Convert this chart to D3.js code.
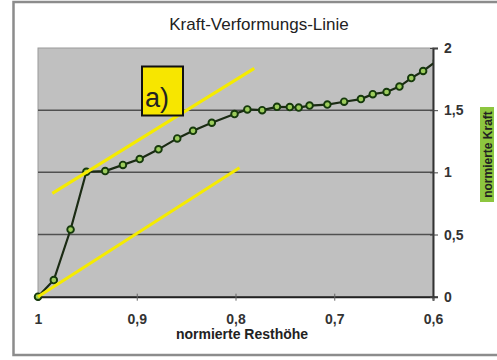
<!DOCTYPE html>
<html><head><meta charset="utf-8">
<script src="https://cdn.jsdelivr.net/npm/d3@7"></script>
<style>body{margin:0;background:#fff;} svg{display:block;font-family:"Liberation Sans",Arial,sans-serif;}</style>
</head><body>
<script>
const title = "Kraft-Verformungs-Linie";
const xTitle = "normierte Resthöhe";
const yTitle = "normierte Kraft";
const xTicks = [1, 0.9, 0.8, 0.7, 0.6];
const xTickLabels = ["1", "0,9", "0,8", "0,7", "0,6"];
const yTicks = [0, 0.5, 1, 1.5, 2];
const yTickLabels = ["0", "0,5", "1", "1,5", "2"];
const resthoehe = [1, 0.984, 0.967, 0.951, 0.932, 0.914, 0.897, 0.878, 0.859, 0.843, 0.824, 0.801, 0.788, 0.773, 0.758, 0.745, 0.736, 0.725, 0.707, 0.690, 0.673, 0.661, 0.647, 0.634, 0.622, 0.610, 0.596];
const kraft = [0, 0.134, 0.54, 1.005, 1.01, 1.06, 1.107, 1.185, 1.273, 1.334, 1.399, 1.469, 1.506, 1.50, 1.527, 1.525, 1.521, 1.537, 1.545, 1.568, 1.589, 1.629, 1.646, 1.690, 1.758, 1.815, 1.897];
// annotation lines (data units): [x1, y1, x2, y2]
const annotUpper = [0.9855, 0.831, 0.781, 1.836];
const annotLower = [1, 0, 0.796, 1.037];
const annotLabel = "a)";

const W = 497, H = 360;
const svg = d3.select("body").append("svg").attr("width", W).attr("height", H);
// outer frame
svg.append("rect").attr("x", 13.5).attr("y", 2).attr("width", 520).attr("height", 353)
  .attr("fill", "#fff").attr("stroke", "#8c8c8c").attr("stroke-width", 2.5);

const x = d3.scaleLinear().domain([1, 0.6]).range([38, 433]);
const y = d3.scaleLinear().domain([0, 2]).range([296.7, 48]);

svg.append("text").attr("x", 259).attr("y", 30).attr("text-anchor", "middle")
  .attr("font-size", 17).attr("fill", "#222").text(title);

// plot area
svg.append("rect").attr("x", x(1)).attr("y", y(2)).attr("width", x(0.6) - x(1)).attr("height", y(0) - y(2))
  .attr("fill", "#c0c0c0").attr("stroke", "#9a9a9a").attr("stroke-width", 1);
svg.append("defs").append("clipPath").attr("id", "clip").append("rect")
  .attr("x", x(1) - 5).attr("y", y(2)).attr("width", x(0.6) - x(1) + 5).attr("height", y(0) - y(2) + 5);

// gridlines
svg.append("g").selectAll("line").data(yTicks.filter(d => d > 0 && d < 2)).join("line")
  .attr("x1", x(1)).attr("x2", x(0.6)).attr("y1", d => y(d)).attr("y2", d => y(d))
  .attr("stroke", "#505050").attr("stroke-width", 1.5);

// axes
const xAxis = d3.axisBottom(x).tickValues(xTicks).tickSize(4).tickFormat((d, i) => xTickLabels[i]);
const gx = svg.append("g").attr("transform", `translate(0,${y(0)})`).call(xAxis);
gx.select(".domain").attr("stroke", "#222").attr("stroke-width", 2);
gx.selectAll(".tick line").attr("stroke", "#666").attr("y1", -3);
gx.selectAll(".tick text").attr("font-family", "Liberation Sans, Arial, sans-serif").attr("font-size", 14)
  .attr("font-weight", "bold").attr("fill", "#333").attr("dy", 0).attr("y", 27);

const yAxis = d3.axisRight(y).tickValues(yTicks).tickSize(5).tickFormat((d, i) => yTickLabels[i]);
const gy = svg.append("g").attr("transform", `translate(${x(0.6)},0)`).call(yAxis);
gy.select(".domain").attr("stroke", "#333").attr("stroke-width", 2);
gy.selectAll(".tick line").attr("stroke", "#444").attr("x1", -3);
gy.selectAll(".tick text").attr("font-family", "Liberation Sans, Arial, sans-serif").attr("font-size", 14)
  .attr("font-weight", "bold").attr("fill", "#333").attr("x", 11);

// axis titles
svg.append("text").attr("x", 242).attr("y", 339).attr("text-anchor", "middle")
  .attr("font-size", 14).attr("font-weight", "bold").attr("fill", "#222").text(xTitle);
svg.append("rect").attr("x", 480).attr("y", 107).attr("width", 14).attr("height", 95).attr("fill", "#8dc63f");
svg.append("text").attr("transform", "translate(491.5,154.5) rotate(-90)").attr("text-anchor", "middle")
  .attr("font-size", 12).attr("font-weight", "bold").attr("fill", "#222").text(yTitle);

// data line
const pts = resthoehe.map((r, i) => [r, kraft[i]]);
const g = svg.append("g").attr("clip-path", "url(#clip)");
g.append("path").datum(pts).attr("fill", "none").attr("stroke", "#1b2b14").attr("stroke-width", 2.2)
  .attr("d", d3.line().x(d => x(d[0])).y(d => y(d[1])));
g.selectAll("circle").data(pts).join("circle")
  .attr("cx", d => x(d[0])).attr("cy", d => y(d[1])).attr("r", 3.3)
  .attr("fill", "#9ccc5c").attr("stroke", "#163a0c").attr("stroke-width", 1.9);

// annotation lines
[annotUpper, annotLower].forEach(a => {
  svg.append("line").attr("x1", x(a[0])).attr("y1", y(a[1])).attr("x2", x(a[2])).attr("y2", y(a[3]))
    .attr("stroke", "#f5eb00").attr("stroke-width", 3);
});
// label box
svg.append("rect").attr("x", 142).attr("y", 66.5).attr("width", 41).attr("height", 49)
  .attr("fill", "#f7e600").attr("stroke", "#111").attr("stroke-width", 2);
svg.append("text").attr("x", 145).attr("y", 107).attr("font-size", 27).attr("fill", "#222").text(annotLabel);
</script>
</body></html>
